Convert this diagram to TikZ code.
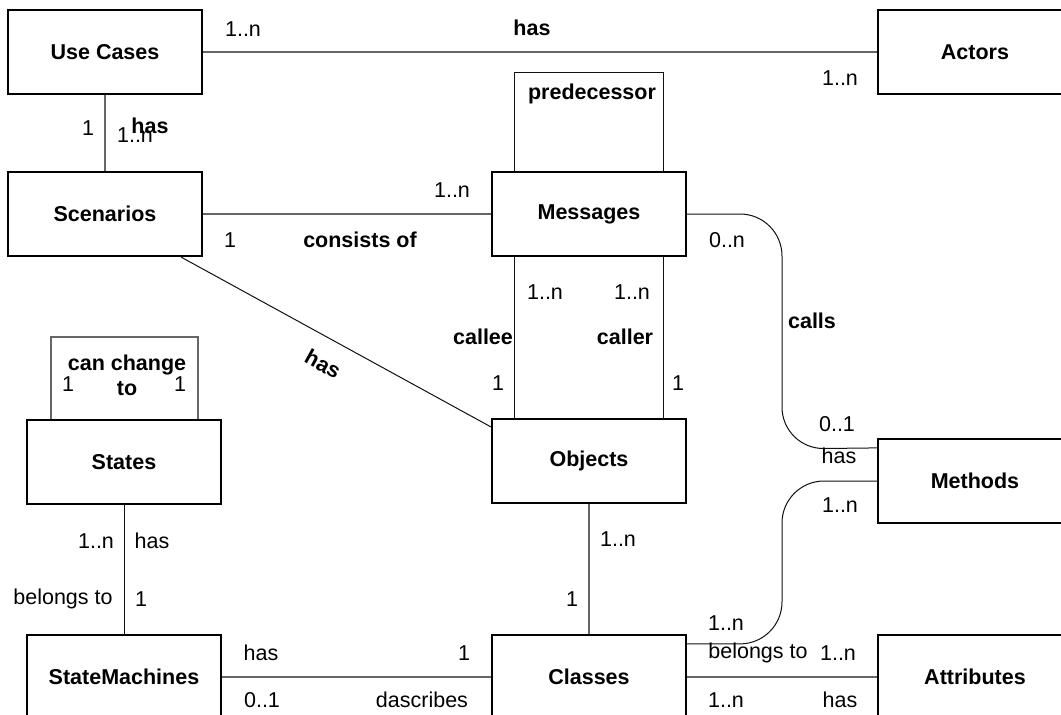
\documentclass[tikz,border=0pt]{standalone}
\usepackage{fontspec}
\setmainfont{Liberation Sans}
\usepackage{xcolor}
\usepackage{tikz}
\usetikzlibrary{arrows.meta}
\definecolor{boxline}{HTML}{000000}
\definecolor{greyline}{HTML}{666666}
\definecolor{inkT}{HTML}{111111}

\begin{document}
\begin{tikzpicture}[x=1pt,y=-1pt,
    every node/.style={font=\fontsize{21.5}{25}\selectfont,inner sep=0pt},
    entity/.style={draw=boxline,line width=2.2pt,fill=white,
                   minimum width=194pt,minimum height=84pt,font=\fontsize{21.5}{25}\selectfont\bfseries},
    link/.style={greyline,line width=1.4pt},
    curve/.style={inkT,line width=1pt,rounded corners=42pt},
    role/.style={font=\fontsize{21.5}{25}\selectfont\bfseries}]
  \useasboundingbox (0,0) rectangle (1061,715);
  % entities
  \node[entity] (uc)     at (105,52)  {Use Cases};
  \node[entity] (act)    at (975,52)  {Actors};
  \node[entity] (scen)   at (105,214) {Scenarios};
  \node[entity] (msg)    at (589,214) {Messages};
  \node[entity] (states) at (124,462) {States};
  \node[entity] (obj)    at (589,461) {Objects};
  \node[entity] (meth)   at (975,481) {Methods};
  \node[entity] (sm)     at (124,677) {StateMachines};
  \node[entity] (cls)    at (589,677) {Classes};
  \node[entity] (attr)   at (975,677) {Attributes};
  \coordinate (callsturn) at (782,449);
  \coordinate (defturn)   at (782,481);

  % relations
  \draw[link] (uc) -- (act);
  \draw[link] (uc) -- (scen);
  \draw[link] (scen) -- (msg);
  \draw[inkT,line width=1pt] ([xshift=24pt]msg.north west) -- ++(0,-98) -| ([xshift=-24pt]msg.north east);
  \draw[inkT,line width=1pt] ([xshift=24pt]msg.south west) -- ([xshift=24pt]obj.north west);
  \draw[inkT,line width=1pt] ([xshift=-24pt]msg.south east) -- ([xshift=-24pt]obj.north east);
  \draw[inkT,line width=1pt] ([xshift=-22pt]scen.south east) -- ([yshift=-9pt]obj.north west);
  \draw[greyline,line width=1.4pt] ([xshift=25pt]states.north west) -- ++(0,-82) -| ([xshift=-24pt]states.north east);
  \draw[curve] (msg.east) -| (callsturn) -- ([yshift=-10pt]meth.north west);
  \draw[curve] ([yshift=-10pt]cls.north east) -| (defturn) -- (meth.west);
  \draw[link] (obj) -- (cls);
  \draw[inkT,line width=1pt] (states) -- (sm);
  \draw[link] (sm) -- (cls);
  \draw[link] (cls) -- (attr);

  % multiplicities and roles
  \node (ucAct1)  at (243,29)  {1..n};
  \node[role] (ucActR) at (532,28) {has};
  \node (ucAct2)  at (840,78)  {1..n};
  \node (ucScen1) at (88,128)  {1};
  \node (ucScen2) at (135,135) {1..n};
  \node[role] (ucScenR) at (150,126) {has};
  \node (scMsg1)  at (452,190) {1..n};
  \node (scMsg2)  at (230,240) {1};
  \node[role] (scMsgR) at (360,240) {consists of};
  \node[role] (msgPred) at (592,94) {predecessor};
  \node (calls1)  at (727,240) {0..n};
  \node[role] (callsR) at (812,321) {calls};
  \node (calls2)  at (837,424) {0..1};
  \node (calls3)  at (839,456) {has};
  \node (callee1) at (545,292) {1..n};
  \node (caller1) at (632,292) {1..n};
  \node[role] (calleeR) at (483,337) {callee};
  \node[role] (callerR) at (625,337) {caller};
  \node (callee2) at (498,383) {1};
  \node (caller2) at (678,383) {1};
  \node[role,rotate=-29] (scObjR) at (323,364) {has};
  \node[role,align=center] (stChange) at (127,375) {can change\\to};
  \node (stCh1)   at (68,384)  {1};
  \node (stCh2)   at (180,384) {1};
  \node (def1)    at (840,505) {1..n};
  \node (objCls1) at (618,539) {1..n};
  \node (objCls2) at (572,599) {1};
  \node (stSm1)   at (96,541)  {1..n};
  \node (stSm2)   at (152,541) {has};
  \node (stSm3)   at (63,599)  {belongs to};
  \node (stSm4)   at (141,599) {1};
  \node (smCls1)  at (261,653) {has};
  \node (smCls2)  at (262,700) {0..1};
  \node (smCls3)  at (464,653) {1};
  \node (smCls4)  at (422,700) {dascribes};
  \node (def2)    at (726,623) {1..n};
  \node (clsAt1)  at (758,653) {belongs to};
  \node (clsAt2)  at (838,653) {1..n};
  \node (clsAt3)  at (726,700) {1..n};
  \node (clsAt4)  at (840,700) {has};
\end{tikzpicture}
\end{document}
